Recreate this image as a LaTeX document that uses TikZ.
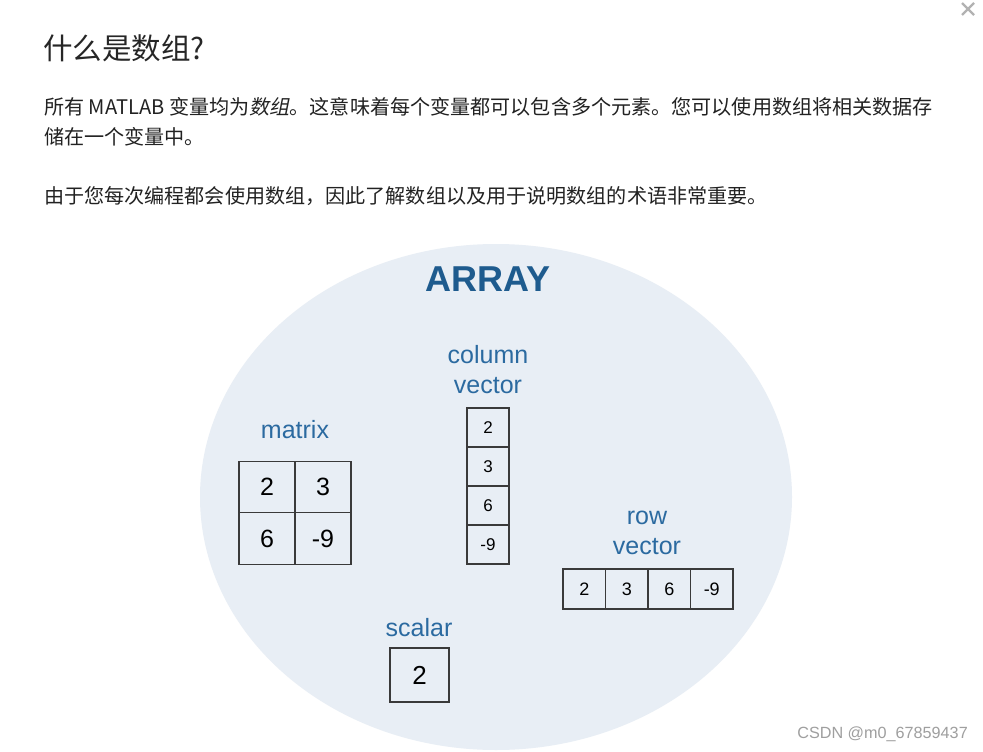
\documentclass[tikz,border=0pt]{standalone}
\usepackage{fontspec}
\usetikzlibrary{shapes.geometric}
\setmainfont{Liberation Sans}
\newfontfamily\cjk{Noto Sans CJK SC}
\newfontfamily\cjkit[FakeSlant=0.2]{Noto Sans CJK SC}
\definecolor{ellfill}{HTML}{E8EEF5}
\definecolor{titleblue}{HTML}{1E5B8E}
\definecolor{lblblue}{HTML}{2B6AA0}
\definecolor{boxline}{HTML}{3A3A3A}
\definecolor{bodytext}{HTML}{222222}
\tikzset{
  lbl/.style={text=lblblue, font=\fontsize{25}{27}\selectfont, inner sep=0pt, align=center},
  cell/.style={draw=boxline, line width=1.3pt, inner sep=0pt},
  para/.style={anchor=west, inner sep=0pt, text=bodytext, font=\cjk\fontsize{20.1}{22}\selectfont},
}
\begin{document}
\begin{tikzpicture}[x=1pt,y=-1pt]
\useasboundingbox[fill=white] (0,0) rectangle (983,752);
% close icon
\coordinate (xa) at (962,3); \coordinate (xb) at (974,15);
\coordinate (xc) at (974,3); \coordinate (xd) at (962,15);
\draw[line width=2.4pt, color=gray!60] (xa) -- (xb) (xc) -- (xd);
% header texts
\node[para, font=\cjk\fontsize{29.5}{31}\selectfont, text=black!85] (title) at (43,48) {什么是数组?};
\node[para] (p1) at (44,107) {所有 MATLAB 变量均为{\cjkit 数组}。这意味着每个变量都可以包含多个元素。您可以使用数组将相关数据存};
\node[para] (p2) at (44,137) {储在一个变量中。};
\node[para] (p3) at (44,196) {由于您每次编程都会使用数组，因此了解数组以及用于说明数组的术语非常重要。};
% ellipse
\node[ellipse, fill=ellfill, minimum width=592pt, minimum height=506pt, inner sep=0pt] (ell) at (496,497) {};
\node[text=titleblue, font=\bfseries\fontsize{36}{38}\selectfont, inner sep=0pt] (arr) at (488,279) {ARRAY};
% matrix
\node[lbl] (mlab) at (295,430) {matrix};
\node[cell, minimum width=56pt, minimum height=51.5pt, font=\fontsize{25}{25}\selectfont] (m11) at (267,487) {2};
\node[cell, minimum width=56pt, minimum height=51.5pt, font=\fontsize{25}{25}\selectfont] (m12) at (323,487) {3};
\node[cell, minimum width=56pt, minimum height=51.5pt, font=\fontsize{25}{25}\selectfont] (m21) at (267,538.5) {6};
\node[cell, minimum width=56pt, minimum height=51.5pt, font=\fontsize{25}{25}\selectfont] (m22) at (323,538.5) {-9};
% column vector
\node[lbl] (clab) at (488,370) {column\\[3pt]vector};
\foreach \v/\y [count=\i] in {2/427.5,3/466.5,6/505.5,-9/544.5}
  \node[cell, minimum width=42pt, minimum height=39pt, font=\fontsize{17}{17}\selectfont] (c\i) at (488,\y) {\v};
% row vector
\node[lbl] (rlab) at (647,532.5) {row\\[3pt]vector};
\foreach \v/\x [count=\i] in {2/584.25,3/626.75,6/669.25,-9/711.75}
  \node[cell, minimum width=42.5pt, minimum height=40pt, font=\fontsize{18}{18}\selectfont] (r\i) at (\x,589) {\v};
% scalar
\node[lbl] (slab) at (419,628) {scalar};
\node[cell, minimum width=59pt, minimum height=54pt, font=\fontsize{26}{26}\selectfont] (s1) at (419.5,675) {2};
% watermark
\node[anchor=east, inner sep=0pt, text=gray!75, font=\fontsize{16.2}{16}\selectfont] (wm) at (968,734) {CSDN @m0\_67859437};
\end{tikzpicture}
\end{document}
